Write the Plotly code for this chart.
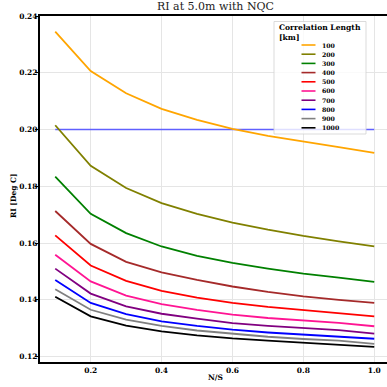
import plotly.graph_objects as go

ns = [0.1, 0.2, 0.3, 0.4, 0.5, 0.6, 0.7, 0.8, 0.9, 1.0]
corr_lengths = ["100", "200", "300", "400", "500", "600", "700", "800", "900", "1000"]
colors = ["#FFA500", "#808000", "#008000", "#A52A2A", "#FF0000",
          "#FF1493", "#800080", "#0000FF", "#808080", "#000000"]

ri_100 = [0.2345, 0.2206, 0.2128, 0.2073, 0.2034, 0.2002, 0.1978, 0.1957, 0.1938, 0.1918]
ri_200 = [0.2015, 0.1872, 0.1794, 0.1741, 0.1703, 0.1672, 0.1647, 0.1625, 0.1606, 0.1588]
ri_300 = [0.1834, 0.1703, 0.1635, 0.1588, 0.1555, 0.1530, 0.1510, 0.1492, 0.1478, 0.1463]
ri_400 = [0.1713, 0.1597, 0.1534, 0.1497, 0.1470, 0.1447, 0.1428, 0.1412, 0.1400, 0.1389]
ri_500 = [0.1627, 0.1521, 0.1467, 0.1432, 0.1408, 0.1389, 0.1375, 0.1364, 0.1354, 0.1342]
ri_600 = [0.1559, 0.1465, 0.1415, 0.1385, 0.1365, 0.1348, 0.1336, 0.1327, 0.1319, 0.1307]
ri_700 = [0.1510, 0.1422, 0.1377, 0.1351, 0.1334, 0.1318, 0.1308, 0.1300, 0.1293, 0.1281]
ri_800 = [0.1470, 0.1389, 0.1350, 0.1324, 0.1308, 0.1295, 0.1285, 0.1278, 0.1271, 0.1263]
ri_900 = [0.1437, 0.1365, 0.1330, 0.1308, 0.1292, 0.1280, 0.1270, 0.1262, 0.1256, 0.1245]
ri_1000 = [0.1411, 0.1342, 0.1309, 0.1289, 0.1275, 0.1264, 0.1256, 0.1249, 0.1243, 0.1234]
series = [ri_100, ri_200, ri_300, ri_400, ri_500, ri_600, ri_700, ri_800, ri_900, ri_1000]

ref_level = 0.20
x_ticks = [0.2, 0.4, 0.6, 0.8, 1.0]
x_tick_labels = ["0.2", "0.4", "0.6", "0.8", "1.0"]
y_ticks = [0.12, 0.14, 0.16, 0.18, 0.20, 0.22, 0.24]
y_tick_labels = ["0.12", "0.14", "0.16", "0.18", "0.20", "0.22", "0.24"]

FONT = "DejaVu Serif"
W, H = 387, 387
ML, MR, MT, MB = 40, 0, 16, 25
PW, PH = W - ML - MR, H - MT - MB


def px_x(p):
    return (p - ML) / PW


def px_y(p):
    return (H - MB - p) / PH


fig = go.Figure()

# reference horizontal line
fig.add_trace(go.Scatter(x=[ns[0], ns[-1]], y=[ref_level, ref_level], mode="lines",
                         line=dict(color="#6060FF", width=1.4),
                         showlegend=False, hoverinfo="skip"))

for name, vals, col in zip(corr_lengths, series, colors):
    fig.add_trace(go.Scatter(x=ns, y=vals, mode="lines", name=name,
                             line=dict(color=col, width=1.8), showlegend=False))

# custom compact legend (matplotlib-style)
shapes = [dict(type="rect", xref="paper", yref="paper",
               x0=px_x(274), x1=px_x(366), y0=px_y(134), y1=px_y(21.5),
               fillcolor="rgba(255,255,255,0.8)",
               line=dict(color="rgba(210,210,210,0.8)", width=1), layer="above")]
annotations = [dict(xref="paper", yref="paper", x=px_x(277), y=px_y(21.5),
                    xanchor="left", yanchor="top", align="left", showarrow=False,
                    text="<b>Correlation Length<br>[km]</b>",
                    font=dict(family=FONT, size=7.6, color="black"))]
y0 = 45.0
dy = 9.2
for i, (name, col) in enumerate(zip(corr_lengths, colors)):
    yy = y0 + i * dy
    shapes.append(dict(type="line", xref="paper", yref="paper",
                       x0=px_x(301.5), x1=px_x(315.5), y0=px_y(yy), y1=px_y(yy),
                       line=dict(color=col, width=1.6), layer="above"))
    annotations.append(dict(xref="paper", yref="paper", x=px_x(320), y=px_y(yy),
                            xanchor="left", yanchor="middle", showarrow=False,
                            text="<b>" + name + "</b>",
                            font=dict(family=FONT, size=6.2, color="black")))

# title and axis titles
annotations.append(dict(xref="paper", yref="paper", x=px_x(215), y=px_y(15),
                        xanchor="center", yanchor="bottom", showarrow=False,
                        text="RI at 5.0m with NQC",
                        font=dict(family=FONT, size=11, color="#222")))
annotations.append(dict(xref="paper", yref="paper", x=px_x(215), y=px_y(377),
                        xanchor="center", yanchor="middle", showarrow=False,
                        text="<b>N/S</b>",
                        font=dict(family=FONT, size=7.5, color="black")))
annotations.append(dict(xref="paper", yref="paper", x=px_x(13), y=px_y(196),
                        xanchor="center", yanchor="middle", showarrow=False,
                        textangle=-90, text="<b>RI [Deg C]</b>",
                        font=dict(family=FONT, size=7.5, color="black")))

axis_common = dict(showgrid=True, gridcolor="#e5e5e5", gridwidth=1,
                   showline=True, linecolor="black", linewidth=2,
                   zeroline=False,
                   tickfont=dict(family=FONT, size=7.5, color="black", weight="bold"))

fig.update_layout(
    width=W, height=H,
    margin=dict(l=ML, r=MR, t=MT, b=MB),
    paper_bgcolor="white", plot_bgcolor="white",
    xaxis=dict(range=[0.057, 1.036], tickvals=x_ticks, ticktext=x_tick_labels,
               mirror=True, ticks="", ticklabelstandoff=0,
               **axis_common),
    yaxis=dict(range=[0.1181, 0.24], tickvals=y_ticks, ticktext=y_tick_labels,
               ticks="outside", ticklen=3, tickcolor="black", tickwidth=1,
               ticklabelstandoff=-4,
               **axis_common),
    shapes=shapes,
    annotations=annotations,
    showlegend=False,
)

fig.write_html("out.html")
